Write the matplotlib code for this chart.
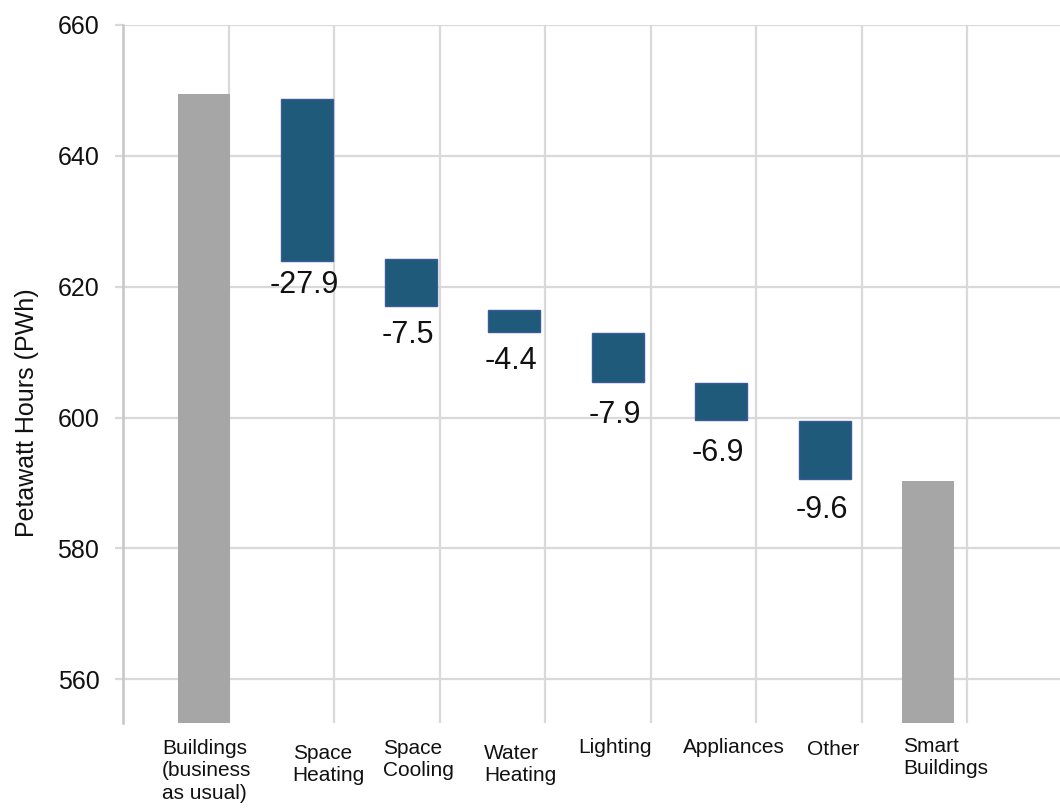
import matplotlib
matplotlib.use("Agg")
import matplotlib.pyplot as plt
import matplotlib.transforms as mtransforms
import numpy as np

plt.rcParams['font.family'] = ['Liberation Sans', 'DejaVu Sans']

# ---- data ----
categories = ["Buildings\n(business\nas usual)", "Space\nHeating", "Space\nCooling",
              "Water\nHeating", "Lighting", "Appliances", "Other", "Smart\nBuildings"]
totals = [649.4, 590.3]                      # grey total bars (first / last)
step_tops = [648.7, 624.2, 616.5, 612.95, 605.3, 599.45]
step_bottoms = [624.0, 617.0, 613.0, 605.4, 599.55, 590.6]
step_labels = ["-27.9", "-7.5", "-4.4", "-7.9", "-6.9", "-9.6"]
yticks = [560, 580, 600, 620, 640, 660]

# ---- layout ----
DPI = 100
fig = plt.figure(figsize=(10.6, 8.08), dpi=DPI)
ax = fig.add_axes([123/1060, 1 - 723/808, 937/1060, 698/808])
ax.set_xlim(0, 937/105.5)
ax.set_ylim(553.3, 660)

xpos = 0.765 + 0.981 * np.arange(len(categories))
width = 0.49
grey = "#a6a6a6"
blue = "#1f5a7a"
edge = "#3b5a9a"

# grey totals (from axis floor)
floor = 0
ax.bar([xpos[0], xpos[-1]], [totals[0] - floor, totals[1] - floor], bottom=floor,
       width=width, color=grey, zorder=3)
# blue steps
heights = np.array(step_tops) - np.array(step_bottoms)
ax.bar(xpos[1:-1], heights, bottom=step_bottoms, width=width, color=blue,
       edgecolor=edge, linewidth=1.0, zorder=3)

# value labels below each step (baseline offsets in px)
label_off_px = [32, 37, 37, 40.4, 40.7, 38.7]
for x, b, t, off in zip(xpos[1:-1], step_bottoms, step_labels, label_off_px):
    ax.annotate(t, xy=(x, b), xytext=(-3 * 0.72, -off * 0.72), textcoords='offset points',
                ha='center', va='baseline', fontsize=22, color='#111111', zorder=4)

# category labels (left-aligned text under axis)
label_left = [0.372, 1.609, 2.467, 3.425, 4.316, 5.311, 6.486, 7.396]
label_top_px = [740, 745, 740, 745, 739, 739, 741, 737.7]
trans = mtransforms.blended_transform_factory(ax.transData, ax.transAxes)
for txt, lx, ty in zip(categories, label_left, label_top_px):
    ax.text(lx, -(ty - 723 - 1) / 698, txt, transform=trans, ha='left', va='top',
            fontsize=15, color='#111111', linespacing=1.22, multialignment='left')

# grid & axes styling
gridc = "#d9d9d9"
ax.set_yticks(yticks)
ax.set_xticks(np.arange(0, 9))
ax.set_xticklabels([])
ax.grid(True, color=gridc, linewidth=1.6, zorder=0)
ax.set_axisbelow(True)
ax.tick_params(axis='x', length=0)
ax.tick_params(axis='y', length=8 * 0.72, width=1.6, color=gridc, pad=11.3,
               labelsize=18, labelcolor='#111111')
for s in ['top', 'right', 'bottom']:
    ax.spines[s].set_visible(False)
ax.spines['left'].set_color('#c6c6c6')
ax.spines['left'].set_linewidth(1.8)

ax.set_ylabel("Petawatt Hours (PWh)", fontsize=18, color='#111111')
ax.yaxis.set_label_coords(-0.090, 0.444)

fig.savefig("out.png", dpi=DPI)
